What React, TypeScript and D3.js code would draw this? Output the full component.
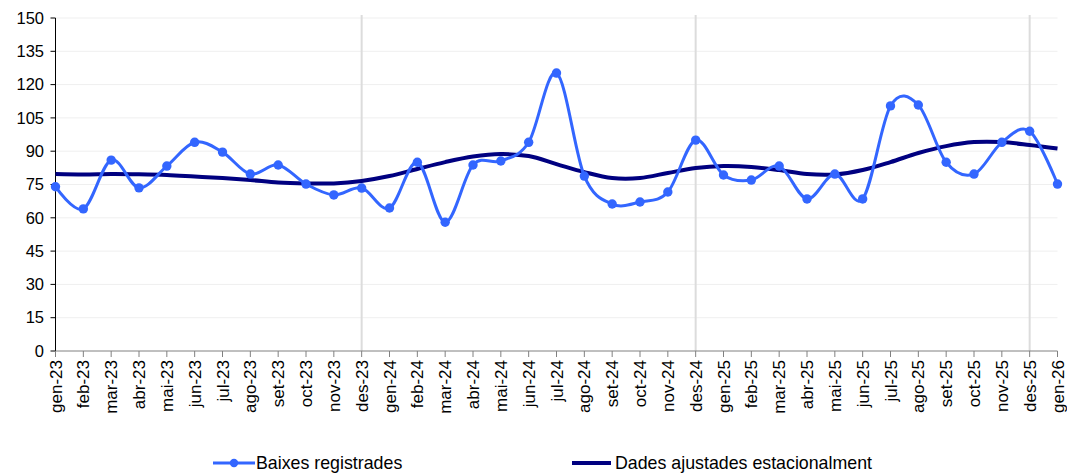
import React from "react";
import * as d3 from "d3";

const months = [
  "gen-23","feb-23","mar-23","abr-23","mai-23","jun-23","jul-23","ago-23","set-23","oct-23","nov-23","des-23",
  "gen-24","feb-24","mar-24","abr-24","mai-24","jun-24","jul-24","ago-24","set-24","oct-24","nov-24","des-24",
  "gen-25","feb-25","mar-25","abr-25","mai-25","jun-25","jul-25","ago-25","set-25","oct-25","nov-25","des-25",
  "gen-26",
];

const baixes = [
  74, 64, 86, 73.5, 83.3, 94, 89.6, 79.7, 83.8, 75.2, 70.3, 73.4,
  64.4, 85, 58, 83.8, 85.6, 94, 125.2, 78.8, 66.2, 67.1, 71.6, 95,
  79.3, 77, 83.3, 68.5, 79.7, 68.5, 110.4, 110.8, 85, 79.7, 94, 99,
  75.2,
];

const ajustades = [
  79.7, 79.5, 79.7, 79.6, 79.3, 78.6, 77.9, 77, 75.9, 75.5, 75.5, 76.6,
  78.8, 82, 85.1, 87.6, 88.7, 87.8, 84.2, 80.6, 77.9, 77.9, 80.2, 82.4,
  83.3, 82.9, 81.5, 79.7, 79.5, 81.5, 85.1, 89.2, 92.3, 94.1, 94.1, 92.8,
  91.2,
];

const yTicks = [0, 15, 30, 45, 60, 75, 90, 105, 120, 135, 150];
const yearEnds = ["des-23", "des-24", "des-25"];

export default function App() {
  const W = 1067, H = 475;
  const left = 55.5, right = 1057.5, top = 18, bottom = 351;
  const x = d3.scalePoint<string>().domain(months).range([left, right]);
  const y = d3.scaleLinear().domain([0, 150]).range([bottom, top]);
  const curve = d3.curveCatmullRom.alpha(0);
  const line1 = d3.line<number>().x((_, i) => x(months[i])!).y((d) => y(d)).curve(curve);
  const font = "'Liberation Sans', Arial, sans-serif";

  return (
    <svg width={W} height={H} style={{ position: "absolute", left: 0, top: 0, fontFamily: font }}>
      <rect width={W} height={H} fill="#fff" />
      {yTicks.slice(1).map((t) => (
        <line key={t} x1={left} x2={right} y1={y(t)} y2={y(t)} stroke="#efefef" strokeWidth={1} />
      ))}
      {yearEnds.map((m) => (
        <line key={m} x1={x(m)} x2={x(m)} y1={15} y2={bottom} stroke="#dcdcdc" strokeWidth={2} />
      ))}
      {/* y axis */}
      <line x1={left} x2={left} y1={top} y2={bottom} stroke="#000" strokeWidth={1} />
      {yTicks.map((t) => (
        <g key={t}>
          <line x1={left - 5} x2={left} y1={y(t)} y2={y(t)} stroke="#000" />
          <text x={44} y={y(t)} dy="0.35em" textAnchor="end" fontSize={16.5} fill="#000">{t}</text>
        </g>
      ))}
      {/* x axis */}
      <line x1={left} x2={right} y1={bottom} y2={bottom} stroke="#808080" strokeWidth={1} />
      {months.map((m) => (
        <g key={m}>
          <line x1={x(m)} x2={x(m)} y1={bottom} y2={bottom + 6} stroke="#808080" />
          <text
            transform={`translate(${x(m)! + 6},${bottom + 9}) rotate(-90)`}
            textAnchor="end"
            fontSize={17}
            fill="#000"
          >
            {m}
          </text>
        </g>
      ))}
      <path d={line1(ajustades)!} fill="none" stroke="#000080" strokeWidth={4} />
      <path d={line1(baixes)!} fill="none" stroke="#3366ff" strokeWidth={3} />
      {baixes.map((v, i) => (
        <circle key={i} cx={x(months[i])} cy={y(v)} r={4.7} fill="#3366ff" />
      ))}
      {/* legend */}
      <g>
        <line x1={213} x2={255} y1={463} y2={463} stroke="#3366ff" strokeWidth={3} />
        <circle cx={234} cy={463} r={4.2} fill="#3366ff" />
        <text x={256} y={463} dy="0.35em" fontSize={17.8} fill="#000">Baixes registrades</text>
        <line x1={572} x2={611} y1={463} y2={463} stroke="#000080" strokeWidth={4} />
        <text x={615} y={463} dy="0.35em" fontSize={17.8} fill="#000">Dades ajustades estacionalment</text>
      </g>
    </svg>
  );
}
